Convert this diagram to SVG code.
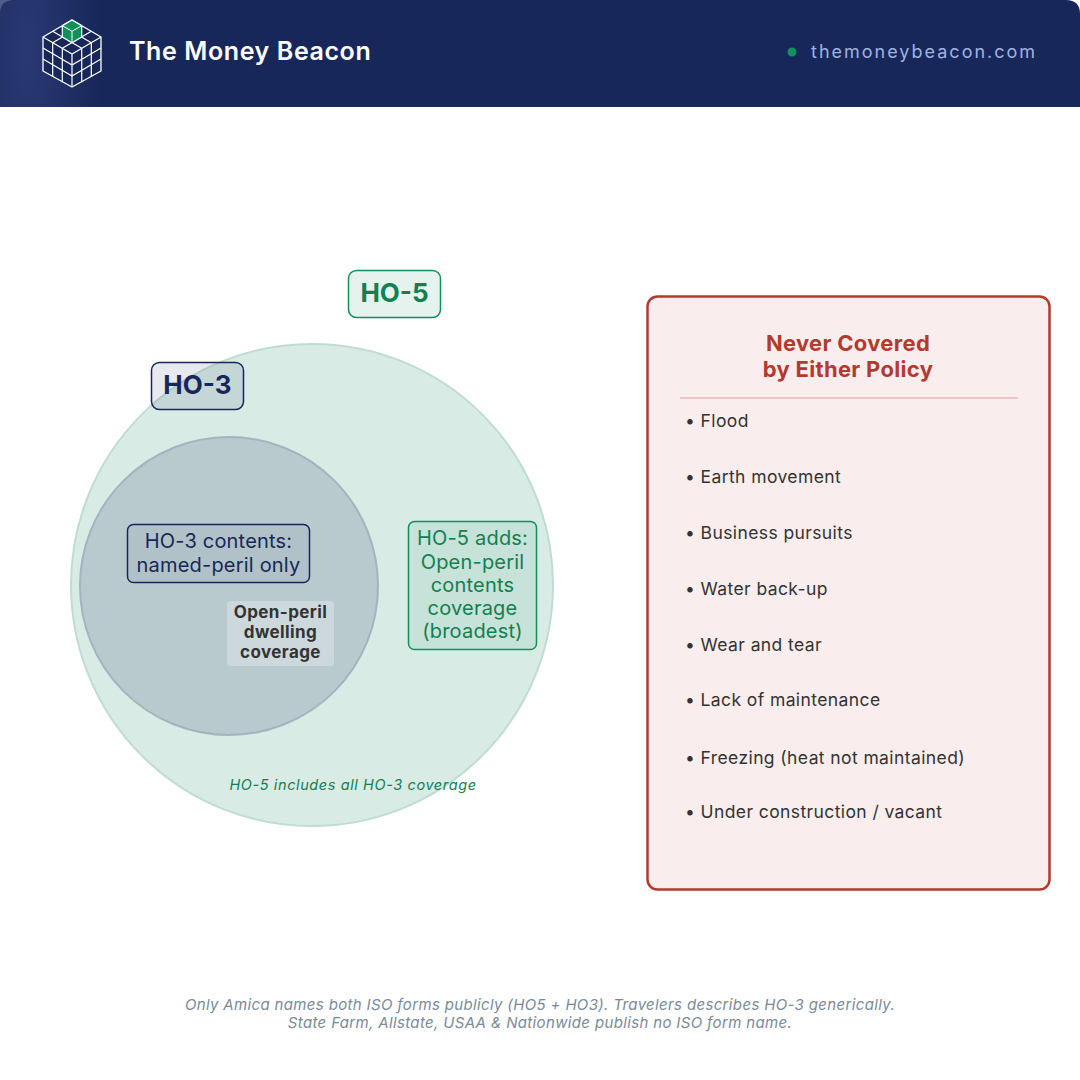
<svg xmlns="http://www.w3.org/2000/svg" width="1080" height="1080" viewBox="0 0 1080 1080">
<defs>
<radialGradient id="hg" cx="0.09" cy="0.45" r="0.25" gradientTransform="scale(1,10) translate(0,-0.4)">
<stop offset="0" stop-color="#2e3d78"/><stop offset="1" stop-color="#18275a"/></radialGradient>
<style>
.s{font-family:Inter,"Liberation Sans",sans-serif}
.li{font-size:17.5px;fill:#333;letter-spacing:0.4px}
.cube{fill:#18275a;stroke:#fff;stroke-width:1.3;stroke-linejoin:round}
</style>
</defs>
<rect width="1080" height="1080" fill="#fff"/>
<g id="header">
<path d="M14 0H1066Q1080 0 1080 14V107H0V14Q0 0 14 0Z" fill="#18275a"/>
<rect width="300" height="107" fill="url(#hg)" opacity="0.8"/>
<g id="logo">
<path class="cube" d="M72 20L101 37V71L72 87L43 71V37Z"/>
<path d="M43 37L72 54L101 37M72 54V87M43 48L72 65L101 48M43 59L72 76L101 59M52.7 42.7V76.7M62.3 48.3V82.3M81.7 48.3V82.3M91.3 42.7V76.7M52.7 31.3L81.7 48.3M62.3 25.7L91.3 42.7M91.3 31.3L62.3 48.3M81.7 25.7L52.7 42.7" fill="none" stroke="#fff" stroke-width="1.2"/>
<path d="M72 20L81.7 25.7V37L72 42.7L62.3 37V25.7Z" fill="#12905a" stroke="#fff" stroke-width="1.2"/>
<path d="M62.3 25.7L72 31.3L81.7 25.7M72 31.3V42.7" fill="none" stroke="#fff" stroke-width="1"/>
</g>
<text x="129" y="60" class="s" font-size="25" font-weight="600" fill="#fff" letter-spacing="0.6">The Money Beacon</text>
<circle cx="792" cy="52" r="4.5" fill="#12905a"/>
<text x="811" y="58" class="s" font-size="18" fill="#9fb3e0" letter-spacing="2">themoneybeacon.com</text>
</g>
<g id="ho5">
<circle cx="312" cy="585" r="241" fill="#d8ebe5" stroke="#bfdcd2" stroke-width="2"/>
<rect x="348.500" y="270.500" width="92" height="47" rx="8" fill="#e6f2ee" stroke="#12905a" stroke-width="1.5"/>
<text x="394.500" y="302" text-anchor="middle" class="s" font-size="26" font-weight="700" fill="#12804f">HO-5</text>
<text x="353" y="790" text-anchor="middle" class="s" font-size="14.500" font-style="italic" fill="#12804f" letter-spacing="0.6">HO-5 includes all HO-3 coverage</text>
</g>
<g id="ho3">
<circle cx="229" cy="586" r="149" fill="#b8cacd" stroke="#a5b3bf" stroke-width="2"/>
<rect x="151.500" y="362.500" width="92" height="47" rx="8" fill="#18275a" fill-opacity="0.1" stroke="#18275a" stroke-width="1.5"/>
<text x="197.500" y="394" text-anchor="middle" class="s" font-size="26" font-weight="700" fill="#18275a">HO-3</text>
</g>
<g id="ho3contents">
<rect x="127.500" y="524.500" width="182" height="58" rx="6" fill="#b0c2c7" stroke="#18275a" stroke-width="1.5"/>
<text text-anchor="middle" class="s" font-size="20" fill="#18275a" letter-spacing="0.2"><tspan x="218.500" y="548">HO-3 contents:</tspan><tspan x="218.500" y="572">named-peril only</tspan></text>
</g>
<g id="dwelling">
<rect x="227" y="601" width="107" height="65" rx="4" fill="#ccd8db"/>
<text text-anchor="middle" class="s" font-size="17" font-weight="700" fill="#333" letter-spacing="0.4"><tspan x="280.500" y="618">Open-peril</tspan><tspan x="280.500" y="638">dwelling</tspan><tspan x="280.500" y="658">coverage</tspan></text>
</g>
<g id="ho5adds">
<rect x="408.500" y="521.500" width="128" height="128" rx="6" fill="#c6e2d9" stroke="#12905a" stroke-width="1.5"/>
<text text-anchor="middle" class="s" font-size="20" fill="#12804f" letter-spacing="0.2"><tspan x="472.500" y="545">HO-5 adds:</tspan><tspan x="472.500" y="569">Open-peril</tspan><tspan x="472.500" y="592">contents</tspan><tspan x="472.500" y="615">coverage</tspan><tspan x="472.500" y="638">(broadest)</tspan></text>
</g>
<g id="never">
<rect x="647.500" y="296.500" width="402" height="593" rx="10" fill="#f9eded" stroke="#b23a30" stroke-width="2.5"/>
<text text-anchor="middle" class="s" font-size="22" font-weight="700" fill="#b23a30" letter-spacing="0.3"><tspan x="848" y="351">Never Covered</tspan><tspan x="848" y="377">by Either Policy</tspan></text>
<line x1="680" y1="398" x2="1018" y2="398" stroke="#e0a09a" stroke-width="1.2"/>
<g class="s li">
<text x="685" y="427">• Flood</text>
<text x="685" y="483">• Earth movement</text>
<text x="685" y="539">• Business pursuits</text>
<text x="685" y="595">• Water back-up</text>
<text x="685" y="651">• Wear and tear</text>
<text x="685" y="706">• Lack of maintenance</text>
<text x="685" y="764">• Freezing (heat not maintained)</text>
<text x="685" y="818">• Under construction / vacant</text>
</g>
</g>
<g id="footer">
<text text-anchor="middle" class="s" font-size="15" font-style="italic" fill="#7a8a99" letter-spacing="0.35"><tspan x="540" y="1010">Only Amica names both ISO forms publicly (HO5 + HO3). Travelers describes HO-3 generically.</tspan><tspan x="540" y="1028">State Farm, Allstate, USAA &amp; Nationwide publish no ISO form name.</tspan></text>
</g>
</svg>
